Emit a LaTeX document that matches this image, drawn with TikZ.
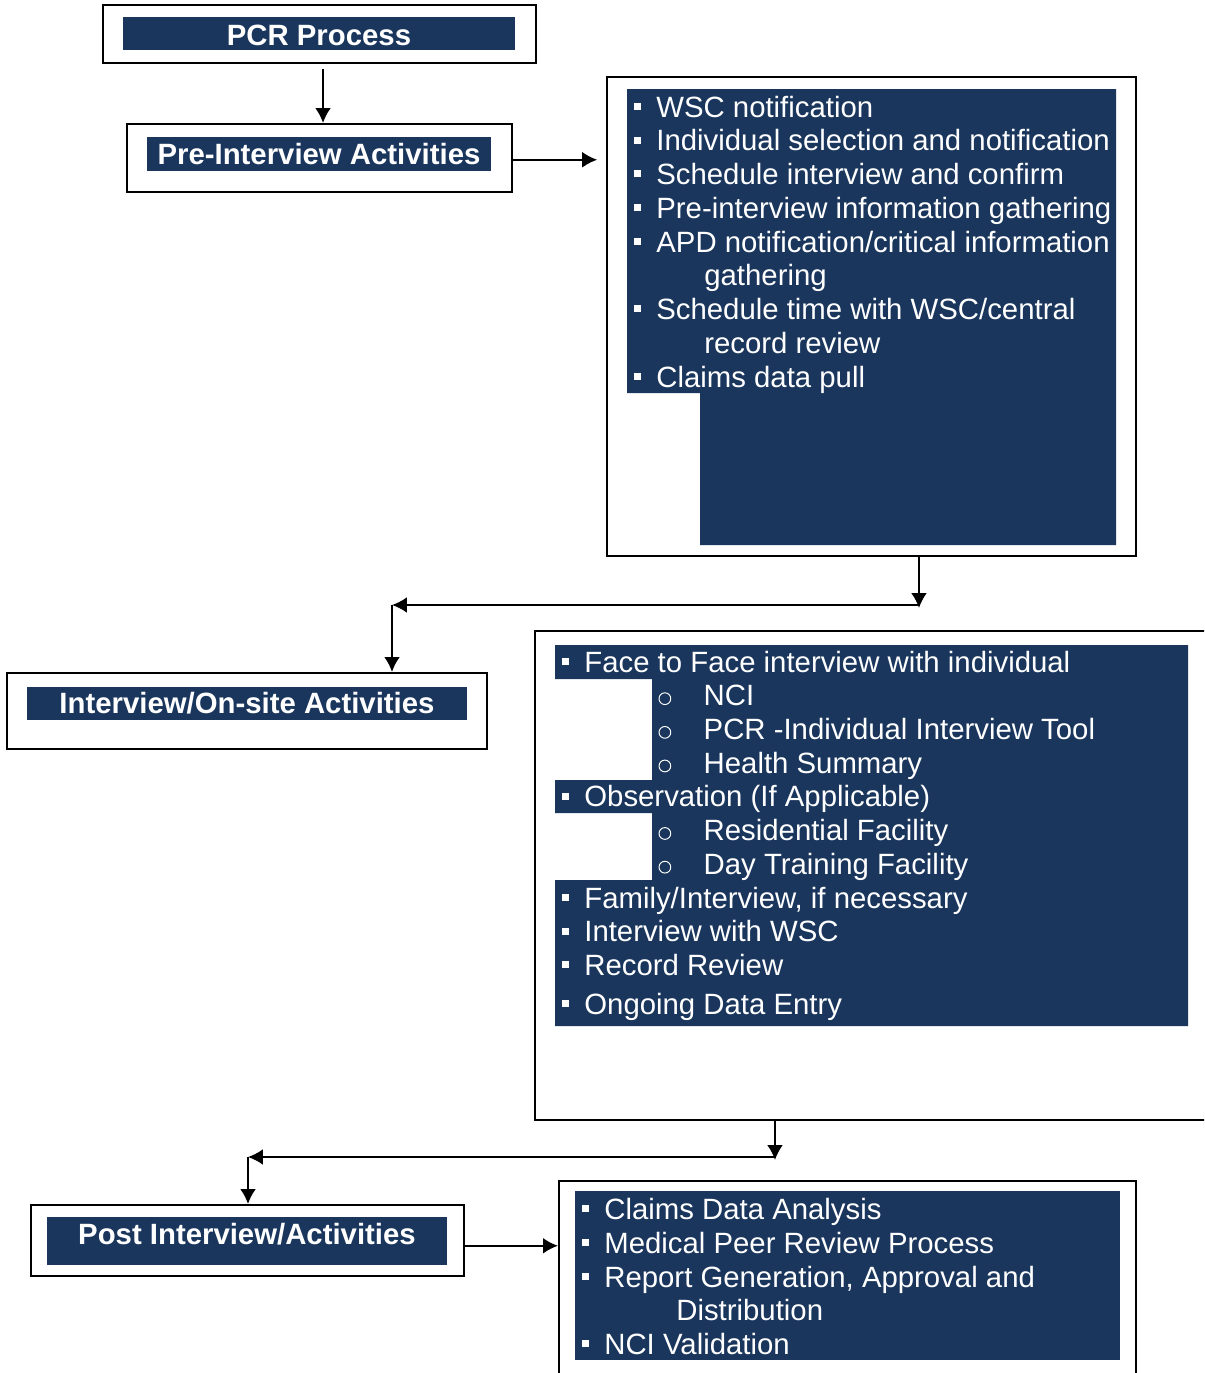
\documentclass[tikz,border=0pt]{standalone}
\usepackage{fontspec}
\setmainfont{Liberation Sans}
\usetikzlibrary{positioning,arrows.meta,fit,calc}
\definecolor{navy}{RGB}{26,54,93}
\newcommand{\bul}{\makebox[0.75em][l]{\rule[0.24em]{0.24em}{0.24em}}}
\newcommand{\sub}{\makebox[1.58em][l]{\hspace{0.04em}\tikz[baseline=0pt]\draw[white, line width=0.55pt] (0.2em,0.24em) circle[radius=0.2em];}}

\begin{document}
\begin{tikzpicture}[
  x=0.02cm, y=-0.02cm,
  frame/.style={draw, line width=1.2pt, inner sep=0pt},
  bar/.style={fill=navy, inner sep=0pt},
  title/.style={anchor=base, text=white, inner sep=0pt, font=\fontsize{16.7}{19}\selectfont\bfseries},
  item/.style={anchor=base west, text=white, inner sep=0pt, font=\fontsize{16.7}{19}\selectfont},
  arr/.style={-{Latex[length=8.5pt, width=9pt]}, line width=1.1pt},
]
\clip (0,0) rectangle (1204,1373);

% Title boxes
\node[frame, fit={(103,5)(536,63)}] (pcr) {};
\node[bar, fit={(123,17)(515,50)}] (pcrbar) {};
\node[title] at (319,45.5) (pcrtxt) {PCR Process};

\node[frame, fit={(127,124)(512,192)}] (pre) {};
\node[bar, fit={(147,137)(491,171)}] (prebar) {};
\node[title] at (319,164.5) (pretxt) {Pre-Interview Activities};

\node[frame, fit={(7,673)(487,749)}] (intv) {};
\node[bar, fit={(27,687)(467,720)}] (intvbar) {};
\node[title] at (247,713.5) (intvtxt) {Interview/On-site Activities};

\node[frame, fit={(31,1205)(464,1276)}] (post) {};
\node[bar, fit={(47,1217)(447,1265)}] (postbar) {};
\node[title] at (247,1244.5) (posttxt) {Post Interview/Activities};

% Pre-interview list
\node[frame, fit={(607,77)(1136,556)}] (lst1) {};
\fill[navy] (627,89) -- (1116,89) -- (1116,545) -- (700,545) -- (700,393) -- (627,393) -- cycle;
\node[item] at (634,117) (l1a) {\bul WSC notification};
\node[item] at (634,150.75) (l1b) {\bul Individual selection and notification};
\node[item] at (634,184.5) (l1c) {\bul Schedule interview and confirm};
\node[item] at (634,218.25) (l1d) {\bul Pre-interview information gathering};
\node[item] at (634,252) (l1e) {\bul APD notification/critical information};
\node[item] at (704,285.75) (l1f) {gathering};
\node[item] at (634,319.5) (l1g) {\bul Schedule time with WSC/central};
\node[item] at (704,353.25) (l1h) {record review};
\node[item] at (634,387) (l1i) {\bul Claims data pull};

% Interview list
\node[frame, fit={(535,631)(1215,1120)}] (lst2) {};
\fill[navy] (555,645) -- (1188,645) -- (1188,1026) -- (555,1026) -- (555,880) -- (652,880)
  -- (652,813) -- (555,813) -- (555,780) -- (652,780) -- (652,679) -- (555,679) -- cycle;
\node[item] at (562,672) (l2a) {\bul Face to Face interview with individual};
\node[item] at (657,705.7) (l2b) {\sub NCI};
\node[item] at (657,739.4) (l2c) {\sub PCR -Individual Interview Tool};
\node[item] at (657,773) (l2d) {\sub Health Summary};
\node[item] at (562,806.8) (l2e) {\bul Observation (If Applicable)};
\node[item] at (657,840.5) (l2f) {\sub Residential Facility};
\node[item] at (657,874.2) (l2g) {\sub Day Training Facility};
\node[item] at (562,908) (l2h) {\bul Family/Interview, if necessary};
\node[item] at (562,941.7) (l2i) {\bul Interview with WSC};
\node[item] at (562,975.5) (l2j) {\bul Record Review};
\node[item] at (562,1014) (l2k) {\bul Ongoing Data Entry};

% Post interview list
\node[frame, fit={(559,1181)(1136,1400)}] (lst3) {};
\fill[navy] (575,1191) rectangle (1120,1360);
\node[item] at (582,1219) (l3a) {\bul Claims Data Analysis};
\node[item] at (582,1253) (l3b) {\bul Medical Peer Review Process};
\node[item] at (582,1287) (l3c) {\bul Report Generation, Approval and};
\node[item] at (676,1320) (l3d) {Distribution};
\node[item] at (582,1354) (l3e) {\bul NCI Validation};

% Connectors
\coordinate (d1) at (919,608);
\coordinate (h1) at (919,605);
\coordinate (c1) at (392,605);
\coordinate (d2) at (775,1160);
\coordinate (h2) at (775,1157);
\coordinate (c2) at (248,1157);

\draw[arr, shorten <=3pt] ([xshift=2pt]pcr.south) -- ([xshift=2pt]pre.north);
\draw[arr, shorten >=5pt] ([yshift=-1pt]pre.east) -- ([yshift=-1pt]pre.east -| lst1.west);
\draw[arr] (lst1.south -| d1) -- (d1);
\draw[arr] (h1) -- (c1);
\draw[arr] (c1) -- (intv.north -| c1);
\draw[arr] (lst2.south -| d2) -- (d2);
\draw[arr] (h2) -- (c2);
\draw[arr] (c2) -- (post.north -| c2);
\draw[arr] ([yshift=-3pt]post.east) -- ([yshift=-3pt]post.east -| lst3.west);
\end{tikzpicture}
\end{document}
